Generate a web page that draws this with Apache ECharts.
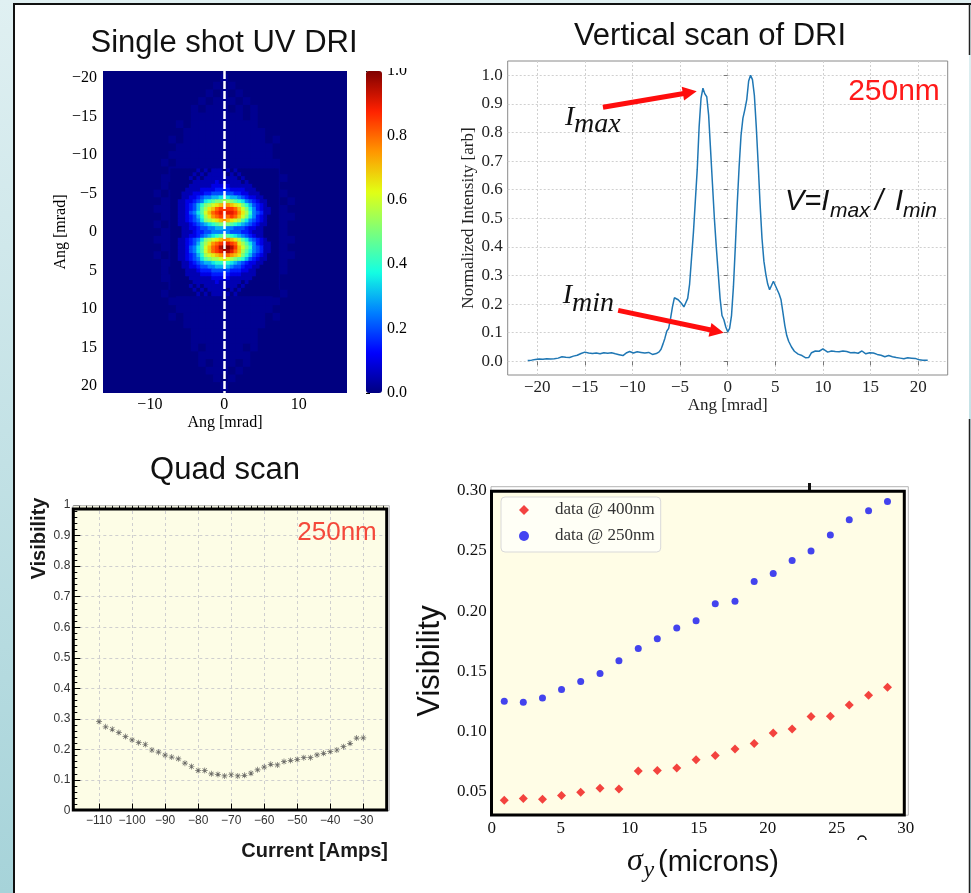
<!DOCTYPE html>
<html>
<head>
<meta charset="utf-8">
<title>DRI measurements</title>
<script src="https://cdn.jsdelivr.net/npm/echarts@6.0.0/dist/echarts.min.js"></script>
<style>
html, body { margin:0; padding:0; background:#ffffff; }
#chart { width:971px; height:893px; }
</style>
</head>
<body>
<div id="chart"></div>
<script>
// ================= DATA =================
// Panel 1: single-shot UV DRI image (character = intensity level)
const heatLevelChars = '0123456789ABCDEFGHIJK';
// core region, 0.5 mrad cells, level/20 = normalized intensity
const fineHeatX0 = -7, fineHeatY0 = -8, fineHeatStep = 0.5, fineHeatScale = 1 / 20;
const fineHeatRows = [
  "00000 00101 01110 10100 00000 0000",
  "00000 01010 11111 01010 00000 0000",
  "00000 10101 11111 11101 00000 0000",
  "00000 01111 11211 11110 10000 0000",
  "00000 11111 12222 21111 11000 0000",
  "00001 11122 22333 32222 11100 0000",
  "00011 12223 34444 44332 21110 0000",
  "00011 22345 56677 76654 32211 0000",
  "00112 23457 89AAB BA987 54321 1000",
  "00112 3468A BCDEF FEDCA 86432 1000",
  "00112 3469B DEGHH HHGEC A7532 1100",
  "00112 4579C EGHIH IIHFD B8543 1100",
  "00112 3468B DFGHH GHGEC A7532 1000",
  "00112 3457A BCDEF EDCB9 75432 1000",
  "00111 23456 789AA A9876 54321 1000",
  "00011 22344 55666 55444 32211 0000",
  "00011 12334 45555 54443 32111 0000",
  "00011 22345 6789A 98765 43211 0000",
  "00112 3457A BCDEF FEDB9 75432 1000",
  "00112 3469B DFGHI IHGDB 97532 1100",
  "00112 4579C EGHJK KJHEC A8543 1100",
  "00112 4579C EGHIJ JIGEB 97543 1100",
  "00112 3468B CDEFG GFEDA 86432 1000",
  "00112 34579 ABBCD CBA98 64321 1000",
  "00011 23456 67889 87654 32211 0000",
  "00011 22344 55666 65443 22110 0000",
  "00001 11233 34444 43332 21100 0000",
  "00001 11122 23333 32221 11100 0000",
  "00000 11111 12222 21111 11000 0000",
  "00000 01111 11211 11110 10000 0000",
  "00000 10101 11111 11101 00000 0000",
  "00000 01010 11111 01010 00000 0000",
  "00000 00101 01110 10100 00000 0000"
];
// faint background halo, 1 mrad cells, level/60 = normalized intensity
const coarseHeatX0 = -16, coarseHeatY0 = -20, coarseHeatStep = 1, coarseHeatScale = 1 / 60;
const coarseHeatRows = [
  "00000000000 00000100000 00000000000",
  "00000000000 00001010000 00000000000",
  "00000000000 00010101000 00000000000",
  "00000000000 00101110100 00000000000",
  "00000000000 01011101010 00000000000",
  "00000000000 01111111010 00000000000",
  "00000000001 01111111110 00000000000",
  "00000000000 11111111111 00000000000",
  "00000000010 11111111111 01000000000",
  "00000000001 11111111111 10000000000",
  "00000000011 11111111111 10000000000",
  "00000000101 11111111111 11000000000",
  "00000000011 11111111111 11000000000",
  "00000000111 11111111111 11100000000",
  "00000000101 11111111111 11000000000",
  "00000001011 11111111111 11100000000",
  "00000000111 11111111111 11010000000",
  "00000001111 11111111111 11100000000",
  "00000000111 11111111111 11110000000",
  "00000001011 11111111111 11100000000",
  "00000000111 11111111111 11100000000",
  "00000001111 11111111111 11110000000",
  "00000000111 11111111111 11100000000",
  "00000001011 11111111111 11110000000",
  "00000000111 11111111111 11100000000",
  "00000000101 11111111111 11100000000",
  "00000000111 11111111111 11000000000",
  "00000000011 11111111111 11000000000",
  "00000000101 11111111111 10100000000",
  "00000000011 11111111111 11000000000",
  "00000000001 11111111111 10000000000",
  "00000000010 11111111111 01000000000",
  "00000000000 11111111111 00000000000",
  "00000000000 01111111110 00000000000",
  "00000000000 01111111110 00000000000",
  "00000000000 01011111010 00000000000",
  "00000000000 00111111100 00000000000",
  "00000000000 00101110100 00000000000",
  "00000000000 00011101000 00000000000",
  "00000000000 00001010000 00000000000",
  "00000000000 00000100000 00000000000"
];
const heatXTicks = [-10, 0, 10];
const heatYTicks = [-20, -15, -10, -5, 0, 5, 10, 15, 20];
const colorbarTicks = [0, 0.2, 0.4, 0.6, 0.8, 1.0];
const dashLineX = 0;

// Panel 2: vertical scan of DRI
const scanX = [-21.0,-20.6,-20.2,-19.8,-19.4,-19.0,-18.6,-18.2,-17.8,-17.4,-17.0,-16.6,-16.2,-15.8,-15.4,-15.0,-14.6,-14.2,-13.8,-13.4,-13.0,-12.6,-12.2,-11.8,-11.4,-11.0,-10.6,-10.3,-9.9,-9.5,-9.1,-8.7,-8.3,-7.9,-7.5,-7.2,-7.0,-6.8,-6.6,-6.4,-6.2,-6.0,-5.8,-5.6,-5.4,-5.2,-5.0,-4.8,-4.6,-4.4,-4.2,-4.0,-3.8,-3.6,-3.4,-3.2,-3.0,-2.8,-2.6,-2.4,-2.2,-2.0,-1.8,-1.6,-1.4,-1.2,-1.0,-0.8,-0.6,-0.4,-0.2,0.0,0.2,0.4,0.6,0.8,1.0,1.2,1.4,1.6,1.8,2.0,2.2,2.4,2.6,2.8,3.0,3.2,3.4,3.6,3.8,4.0,4.2,4.4,4.6,4.8,5.0,5.2,5.4,5.6,5.8,6.0,6.2,6.4,6.7,7.0,7.4,7.8,8.2,8.5,8.8,9.2,9.6,10.0,10.2,10.5,10.9,11.3,11.7,12.1,12.5,12.9,13.3,13.7,14.1,14.5,14.9,15.3,15.7,16.1,16.5,16.9,17.3,17.7,18.1,18.5,18.9,19.3,19.7,20.1,20.5,21.0];
const scanY = [0.003,0.004,0.006,0.008,0.007,0.009,0.008,0.009,0.011,0.016,0.014,0.013,0.018,0.021,0.027,0.032,0.029,0.027,0.029,0.026,0.030,0.028,0.030,0.026,0.023,0.020,0.030,0.034,0.029,0.033,0.031,0.029,0.031,0.024,0.027,0.033,0.042,0.060,0.080,0.105,0.115,0.150,0.190,0.222,0.225,0.215,0.210,0.200,0.190,0.190,0.220,0.270,0.360,0.450,0.560,0.670,0.820,0.920,0.955,0.935,0.925,0.860,0.740,0.620,0.500,0.400,0.310,0.220,0.160,0.145,0.120,0.103,0.115,0.160,0.260,0.400,0.550,0.680,0.790,0.850,0.880,0.915,0.980,1.000,0.985,0.930,0.820,0.690,0.550,0.430,0.350,0.305,0.270,0.250,0.255,0.280,0.265,0.250,0.235,0.215,0.170,0.125,0.090,0.070,0.050,0.035,0.025,0.020,0.012,0.013,0.030,0.036,0.035,0.043,0.046,0.032,0.036,0.034,0.033,0.036,0.034,0.030,0.031,0.028,0.036,0.026,0.030,0.029,0.024,0.021,0.016,0.020,0.016,0.013,0.011,0.009,0.012,0.011,0.010,0.005,0.004,0.004];
const scanXTicks = [-20, -15, -10, -5, 0, 5, 10, 15, 20];
const scanYTicks = [0, 0.1, 0.2, 0.3, 0.4, 0.5, 0.6, 0.7, 0.8, 0.9, 1.0];
const imaxArrow = [[-13.1, 0.888], [-3.98, 0.94]];
const iminArrow = [[-11.5, 0.178], [-1.14, 0.105]];

// Panel 3: quad scan
const quadCurrent = [-110,-108,-106,-104,-102,-100,-98,-96,-94,-92,-90,-88,-86,-84,-82,-80,-78,-76,-74,-72,-70,-68,-66,-64,-62,-60,-58,-56,-54,-52,-50,-48,-46,-44,-42,-40,-38,-36,-34,-32,-30];
const quadVisibility = [0.291,0.274,0.266,0.255,0.242,0.231,0.222,0.216,0.198,0.191,0.181,0.175,0.169,0.155,0.144,0.131,0.131,0.120,0.118,0.113,0.117,0.113,0.115,0.122,0.133,0.142,0.151,0.149,0.160,0.164,0.167,0.173,0.173,0.182,0.187,0.193,0.198,0.209,0.220,0.237,0.238];
const quadXTicks = [-110, -100, -90, -80, -70, -60, -50, -40, -30];

// Panel 4: visibility vs sigma_y
const sigmaY = [0.91,2.29,3.68,5.06,6.45,7.85,9.22,10.62,12.0,13.41,14.81,16.2,17.63,19.02,20.4,21.77,23.14,24.54,25.91,27.31,28.68];
const vis400 = [0.0428,0.0442,0.0436,0.0467,0.0495,0.0528,0.0522,0.0670,0.0675,0.0695,0.0764,0.0800,0.0853,0.0900,0.0986,0.1020,0.1123,0.1125,0.1220,0.1300,0.1367];
const vis250 = [0.1250,0.1242,0.1278,0.1347,0.1414,0.1481,0.1586,0.1689,0.1770,0.1858,0.1920,0.2061,0.2081,0.2245,0.2311,0.2420,0.2498,0.2631,0.2758,0.2833,0.2911];
const visYTicks = [0.05, 0.10, 0.15, 0.20, 0.25, 0.30];

// ================= BUILD =================
const SERIF = '"Liberation Serif", "Times New Roman", serif';
const SANS = '"Liberation Sans", Arial, sans-serif';
const jetColors = ['#000080','#0000ff','#0080ff','#14ffe2','#7bff7b','#e2ff14','#ff9600','#ff2100','#800000'];

function parseGrid(rows, x0, y0, step, scale) {
  const out = [];
  rows.forEach((row, r) => {
    const s = row.replace(/\s+/g, '');
    for (let c = 0; c < s.length; c++) {
      out.push([x0 + c * step, y0 + r * step, heatLevelChars.indexOf(s[c]) * scale]);
    }
  });
  return out;
}
const fineCells = parseGrid(fineHeatRows, fineHeatX0, fineHeatY0, fineHeatStep, fineHeatScale);
const coarseCells = parseGrid(coarseHeatRows, coarseHeatX0, coarseHeatY0, coarseHeatStep, coarseHeatScale);

function cellRenderer(step) {
  return function (params, api) {
    const cx = api.value(0), cy = api.value(1);
    const p0 = api.coord([cx - step / 2, cy - step / 2]);
    const p1 = api.coord([cx + step / 2, cy + step / 2]);
    return {
      type: 'rect',
      shape: {
        x: Math.min(p0[0], p1[0]), y: Math.min(p0[1], p1[1]),
        width: Math.abs(p1[0] - p0[0]) + 0.6, height: Math.abs(p1[1] - p0[1]) + 0.6
      },
      style: { fill: api.visual('color') }
    };
  };
}
const minusFmt = v => (v < 0 ? '\u2212' + Math.abs(v) : String(v));
const quadMinorTicks = [];
for (let v = -116; v <= -24; v += 2) quadMinorTicks.push(v);

const gridBase = { containLabel: false, outerBoundsMode: 'none' };

const option = {
  animation: false,
  textStyle: { fontFamily: SANS },
  grid: [
    Object.assign({ left: 103, top: 71, width: 244, height: 322, show: true, backgroundColor: '#000080', borderWidth: 0 }, gridBase),
    Object.assign({ left: 366, top: 71, width: 16, height: 322, show: false }, gridBase),
    Object.assign({ left: 507.7, top: 61, width: 440, height: 314, show: true, backgroundColor: '#ffffff', borderColor: '#8a8a8a', borderWidth: 1 }, gridBase),
    Object.assign({ left: 73.3, top: 505, width: 313.4, height: 305.5, show: true, backgroundColor: '#fdfde6', borderWidth: 0 }, gridBase),
    Object.assign({ left: 491.7, top: 490.7, width: 414, height: 324.3, show: true, backgroundColor: '#fffde6', borderWidth: 0 }, gridBase)
  ],
  xAxis: [
    { gridIndex: 0, type: 'value', min: -16.3, max: 16.5,
      axisLine: { show: false }, splitLine: { show: false },
      axisTick: { show: true, customValues: heatXTicks, length: 4, lineStyle: { color: '#000' } },
      axisLabel: { customValues: heatXTicks, formatter: minusFmt, fontFamily: SERIF, fontSize: 16, color: '#000', margin: 4 },
      name: 'Ang [mrad]', nameLocation: 'middle', nameGap: 22, nameMoveOverlap: false,
      nameTextStyle: { fontFamily: SERIF, fontSize: 16, color: '#000' } },
    { gridIndex: 1, type: 'value', min: 0, max: 1, show: false },
    { gridIndex: 2, type: 'value', min: -23.1, max: 23.1,
      axisLine: { show: false },
      axisTick: { show: true, customValues: scanXTicks, length: 4, lineStyle: { color: '#777' } },
      axisLabel: { customValues: scanXTicks, formatter: minusFmt, fontFamily: SERIF, fontSize: 17, color: '#222', margin: 4 },
      splitLine: { show: true, lineStyle: { color: '#d0d0d0', type: [2, 2], width: 1 } },
      name: 'Ang [mrad]', nameLocation: 'middle', nameGap: 22, nameMoveOverlap: false,
      nameTextStyle: { fontFamily: SERIF, fontSize: 17, color: '#222' } },
    { gridIndex: 3, type: 'value', min: -117.8, max: -22.9,
      axisLine: { show: false },
      axisTick: { show: true, inside: true, customValues: quadXTicks, length: 7, lineStyle: { color: '#000' } },
      axisLabel: { customValues: quadXTicks, formatter: minusFmt, fontFamily: SANS, fontSize: 12, color: '#333', margin: 4 },
      splitLine: { show: true, lineStyle: { color: '#cfcfcf', type: [3, 3], width: 1 } } },
    { gridIndex: 3, type: 'value', min: -117.8, max: -22.9,
      axisLine: { show: false }, axisLabel: { show: false }, splitLine: { show: false },
      axisTick: { show: true, inside: true, customValues: quadMinorTicks, length: 4, lineStyle: { color: '#000' } } },
    { gridIndex: 4, type: 'value', min: 0, max: 30, interval: 5,
      axisLine: { show: false }, axisTick: { show: false }, splitLine: { show: false },
      axisLabel: { fontFamily: SERIF, fontSize: 17, color: '#111', margin: 5 } }
  ],
  yAxis: [
    { gridIndex: 0, type: 'value', inverse: true, min: -20.9, max: 20.9,
      axisLine: { show: false }, splitLine: { show: false },
      axisTick: { show: true, customValues: heatYTicks, length: 4, lineStyle: { color: '#000' } },
      axisLabel: { customValues: heatYTicks, formatter: minusFmt, fontFamily: SERIF, fontSize: 16, color: '#000', margin: 6 },
      name: 'Ang [mrad]', nameLocation: 'middle', nameGap: 34, nameMoveOverlap: false,
      nameTextStyle: { fontFamily: SERIF, fontSize: 16, color: '#000' } },
    { gridIndex: 1, type: 'value', position: 'right', min: 0, max: 1,
      axisLine: { show: false }, splitLine: { show: false },
      axisTick: { show: true, customValues: colorbarTicks, length: 4, lineStyle: { color: '#000' } },
      axisLabel: { customValues: colorbarTicks, formatter: v => v.toFixed(1), fontFamily: SERIF, fontSize: 16, color: '#000', margin: 5 } },
    { gridIndex: 2, type: 'value', min: -0.048, max: 1.05,
      axisLine: { show: false },
      axisTick: { show: true, customValues: scanYTicks, length: 4, lineStyle: { color: '#777' } },
      axisLabel: { customValues: scanYTicks, formatter: v => v.toFixed(1), fontFamily: SERIF, fontSize: 17, color: '#222', margin: 5 },
      splitLine: { show: true, lineStyle: { color: '#d0d0d0', type: [2, 2], width: 1 } },
      name: 'Normalized Intensity [arb]', nameLocation: 'middle', nameGap: 31, nameMoveOverlap: false,
      nameTextStyle: { fontFamily: SERIF, fontSize: 17, color: '#222' } },
    { gridIndex: 3, type: 'value', min: 0, max: 1, interval: 0.1,
      axisLine: { show: false },
      axisTick: { show: true, inside: true, length: 7, lineStyle: { color: '#000' } },
      minorTick: { show: true, splitNumber: 5, length: 4, lineStyle: { color: '#000' } },
      axisLabel: { formatter: v => (v === 0 ? '0' : (v === 1 ? '1' : v.toFixed(1))), fontFamily: SANS, fontSize: 12, color: '#333', margin: 3 },
      splitLine: { show: true, showMinLine: false, showMaxLine: false, lineStyle: { color: '#cfcfcf', type: [3, 3], width: 1 } } },
    { gridIndex: 4, type: 'value', min: 0.0305, max: 0.3,
      axisLine: { show: false }, splitLine: { show: false },
      axisTick: { show: false, customValues: visYTicks },
      axisLabel: { customValues: visYTicks, formatter: v => v.toFixed(2), fontFamily: SERIF, fontSize: 17, color: '#111', margin: 5 } }
  ],
  visualMap: [{
    type: 'continuous', min: 0, max: 1, dimension: 2, seriesIndex: [0, 1],
    calculable: false, hoverLink: false, orient: 'vertical',
    left: 366, top: 71, itemWidth: 16, itemHeight: 322, padding: 0,
    inRange: { color: jetColors }, textStyle: { color: 'transparent' }
  }],
  legend: {
    data: ['data @ 400nm', 'data @ 250nm'], orient: 'vertical',
    left: 501, top: 497, itemWidth: 10, itemHeight: 10, itemGap: 8,
    padding: [4, 6, 7, 18], backgroundColor: 'rgba(255,255,248,0.85)',
    borderColor: '#d9d9d9', borderWidth: 1, borderRadius: 4, selectedMode: false,
    textStyle: { fontFamily: SERIF, fontSize: 17, color: '#333', lineHeight: 18, padding: [0, 0, 0, 21] }
  },
  series: [
    { type: 'custom', name: 'dri-bg', xAxisIndex: 0, yAxisIndex: 0, data: coarseCells, renderItem: cellRenderer(coarseHeatStep), clip: true, silent: true },
    { type: 'custom', name: 'dri-core', xAxisIndex: 0, yAxisIndex: 0, data: fineCells, renderItem: cellRenderer(fineHeatStep), clip: true, silent: true },
    { type: 'line', name: 'center', xAxisIndex: 0, yAxisIndex: 0, data: [], silent: true,
      markLine: { silent: true, symbol: ['none', 'none'], label: { show: false },
        lineStyle: { color: '#ffffff', width: 2.5, type: [8, 2] }, data: [{ xAxis: dashLineX }] } },
    { type: 'line', name: 'scan', xAxisIndex: 2, yAxisIndex: 2,
      data: scanX.map((x, i) => [x, scanY[i]]), showSymbol: false, symbol: 'none',
      lineStyle: { color: '#1f77b4', width: 1.5 },
      markLine: { silent: true, symbol: ['none', 'triangle'], symbolSize: 14, label: { show: false },
        lineStyle: { color: '#ff0d0d', width: 5, type: 'solid' },
        data: [
          [{ coord: imaxArrow[0] }, { coord: imaxArrow[1] }],
          [{ coord: iminArrow[0] }, { coord: iminArrow[1] }]
        ] } },
    { type: 'scatter', name: 'quad', xAxisIndex: 3, yAxisIndex: 3,
      data: quadCurrent.map((x, i) => [x, quadVisibility[i]]),
      symbol: 'path://M4.4,0 L5.6,0 L5.6,10 L4.4,10 Z M0,4.4 L10,4.4 L10,5.6 L0,5.6 Z M1.0,1.8 L1.8,1.0 L9.0,8.2 L8.2,9.0 Z M8.2,1.0 L9.0,1.8 L1.8,9.0 L1.0,8.2 Z',
      symbolSize: 6, itemStyle: { color: '#4a4a4a' }, silent: true },
    { type: 'scatter', name: 'data @ 400nm', xAxisIndex: 5, yAxisIndex: 4,
      data: sigmaY.map((x, i) => [x, vis400[i]]), symbol: 'diamond', symbolSize: 9,
      itemStyle: { color: '#f01414' }, silent: true },
    { type: 'scatter', name: 'data @ 250nm', xAxisIndex: 5, yAxisIndex: 4,
      data: sigmaY.map((x, i) => [x, vis250[i]]), symbol: 'circle', symbolSize: 7,
      itemStyle: { color: '#1414f0' }, silent: true }
  ],
  graphic: [
    { type: 'rect', z: -100, silent: true, shape: { x: 0, y: 0, width: 971, height: 893 },
      style: { fill: { type: 'linear', x: 0, y: 0, x2: 0, y2: 1, colorStops: [{ offset: 0, color: '#e0f0f2' }, { offset: 1, color: '#a6d3d9' }] } } },
    { type: 'rect', z: -99, silent: true, shape: { x: 15, y: 5, width: 954, height: 888 }, style: { fill: '#ffffff' } },
    { type: 'line', z: 50, silent: true, shape: { x1: 14, y1: 4, x2: 14, y2: 893 }, style: { stroke: '#111', lineWidth: 2 } },
    { type: 'line', z: 50, silent: true, shape: { x1: 13, y1: 4, x2: 971, y2: 4 }, style: { stroke: '#111', lineWidth: 2 } },
    { type: 'line', z: 50, silent: true, shape: { x1: 969.5, y1: 4, x2: 969.5, y2: 55 }, style: { stroke: '#222', lineWidth: 1.5 } },
    { type: 'line', z: 50, silent: true, shape: { x1: 969.5, y1: 419, x2: 969.5, y2: 893 }, style: { stroke: '#222', lineWidth: 1.5 } },
    // clip top of colorbar label
    { type: 'rect', z: 60, silent: true, shape: { x: 384, y: 52, width: 30, height: 16 }, style: { fill: '#ffffff' } },
    // panel frames
    { type: 'rect', z: 40, silent: true, shape: { x: 73, y: 505.7, width: 316.3, height: 304.8 }, style: { fill: null, stroke: '#b4b4b4', lineWidth: 1 } },
    { type: 'rect', z: 41, silent: true, shape: { x: 73.3, y: 509, width: 313.4, height: 301 }, style: { fill: null, stroke: '#000', lineWidth: 3 } },
    { type: 'rect', z: 40, silent: true, shape: { x: 491, y: 486.7, width: 417.3, height: 328.5 }, style: { fill: null, stroke: '#b4b4b4', lineWidth: 1 } },
    { type: 'rect', z: 41, silent: true, shape: { x: 491.5, y: 491.3, width: 412.8, height: 323.7 }, style: { fill: null, stroke: '#000', lineWidth: 3 } },
    { type: 'rect', z: 42, silent: true, shape: { x: 808, y: 483, width: 3, height: 7 }, style: { fill: '#111' } },
    { type: 'arc', z: 42, silent: true, shape: { cx: 862, cy: 840, r: 4, startAngle: Math.PI, endAngle: 2 * Math.PI }, style: { fill: null, stroke: '#111', lineWidth: 1.5 } },
    // titles
    { type: 'text', z: 45, silent: true, x: 224, y: 43, style: { text: 'Single shot UV DRI', font: '31px ' + SANS, fill: '#111', align: 'center', verticalAlign: 'middle' } },
    { type: 'text', z: 45, silent: true, x: 710, y: 36.5, style: { text: 'Vertical scan of DRI', font: '31px ' + SANS, fill: '#111', align: 'center', verticalAlign: 'middle' } },
    { type: 'text', z: 45, silent: true, x: 225, y: 470, style: { text: 'Quad scan', font: '31px ' + SANS, fill: '#111', align: 'center', verticalAlign: 'middle' } },
    // panel 2 annotations
    { type: 'text', z: 45, silent: true, x: 894, y: 92, style: { text: '250nm', font: '30px ' + SANS, fill: '#ff1a1a', align: 'center', verticalAlign: 'middle' } },
    { type: 'text', z: 45, silent: true, x: 565, y: 118, style: { text: 'I', font: 'italic 28px ' + SERIF, fill: '#111', align: 'left', verticalAlign: 'middle' } },
    { type: 'text', z: 45, silent: true, x: 574, y: 124.5, style: { text: 'max', font: 'italic 28px ' + SERIF, fill: '#111', align: 'left', verticalAlign: 'middle' } },
    { type: 'text', z: 45, silent: true, x: 562.7, y: 296, style: { text: 'I', font: 'italic 28px ' + SERIF, fill: '#111', align: 'left', verticalAlign: 'middle' } },
    { type: 'text', z: 45, silent: true, x: 572, y: 304, style: { text: 'min', font: 'italic 28px ' + SERIF, fill: '#111', align: 'left', verticalAlign: 'middle' } },
    { type: 'text', z: 45, silent: true, x: 785, y: 202, style: { text: 'V=I', font: 'italic 29px ' + SANS, fill: '#111', align: 'left', verticalAlign: 'middle' } },
    { type: 'text', z: 45, silent: true, x: 830, y: 211.4, style: { text: 'max', font: 'italic 21px ' + SANS, fill: '#111', align: 'left', verticalAlign: 'middle' } },
    { type: 'text', z: 45, silent: true, x: 875, y: 202, style: { text: '/', font: 'italic 29px ' + SANS, fill: '#111', align: 'left', verticalAlign: 'middle' } },
    { type: 'text', z: 45, silent: true, x: 895, y: 202, style: { text: 'I', font: 'italic 29px ' + SANS, fill: '#111', align: 'left', verticalAlign: 'middle' } },
    { type: 'text', z: 45, silent: true, x: 903, y: 211.4, style: { text: 'min', font: 'italic 21px ' + SANS, fill: '#111', align: 'left', verticalAlign: 'middle' } },
    // panel 3 texts
    { type: 'text', z: 45, silent: true, x: 337, y: 533, style: { text: '250nm', font: '26px ' + SANS, fill: '#f4493b', align: 'center', verticalAlign: 'middle' } },
    { type: 'text', z: 45, silent: true, x: 39.5, y: 538.5, rotation: Math.PI / 2, style: { text: 'Visibility', font: 'bold 20px ' + SANS, fill: '#1a1a1a', align: 'center', verticalAlign: 'middle' } },
    { type: 'text', z: 45, silent: true, x: 388, y: 851, style: { text: 'Current [Amps]', font: 'bold 20px ' + SANS, fill: '#1a1a1a', align: 'right', verticalAlign: 'middle' } },
    // panel 4 axis titles
    { type: 'text', z: 45, silent: true, x: 430, y: 661, rotation: Math.PI / 2, style: { text: 'Visibility', font: '31px ' + SANS, fill: '#111', align: 'center', verticalAlign: 'middle' } },
    { type: 'text', z: 45, silent: true, x: 627, y: 862, style: { text: '\u03c3', font: 'italic 32px ' + SERIF, fill: '#111', align: 'left', verticalAlign: 'middle' } },
    { type: 'text', z: 45, silent: true, x: 643.5, y: 871, style: { text: 'y', font: 'italic 24px ' + SERIF, fill: '#111', align: 'left', verticalAlign: 'middle' } },
    { type: 'text', z: 45, silent: true, x: 658, y: 862.5, style: { text: '(microns)', font: '29px ' + SANS, fill: '#111', align: 'left', verticalAlign: 'middle' } }
  ]
};

const chart = echarts.init(document.getElementById('chart'), null, { renderer: 'canvas' });
chart.setOption(option);
</script>
</body>
</html>
